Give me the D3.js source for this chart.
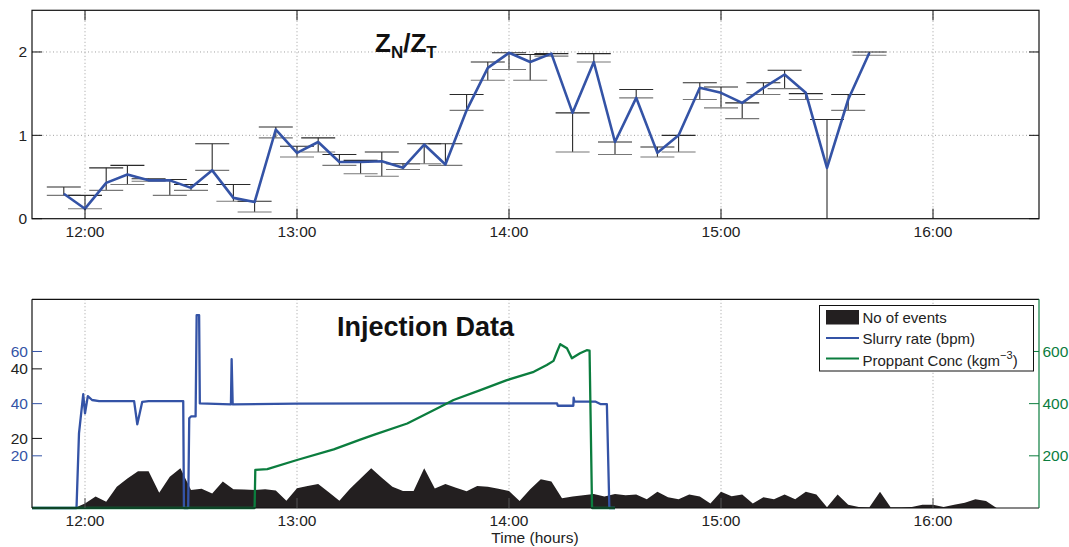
<!DOCTYPE html>
<html>
<head>
<meta charset="utf-8">
<script src="https://cdn.jsdelivr.net/npm/d3@7"></script>
<style>
  body { margin: 0; background: #fff; }
  svg { font-family: "Liberation Sans", Arial, Helvetica, sans-serif; }
</style>
</head>
<body>
<div id="chart"></div>
<script>
// minutes relative to 12:00
const tickMinutes = [0, 60, 120, 180, 240]
const tickLabels = ['12:00', '13:00', '14:00', '15:00', '16:00']

// top panel: ZN/ZT ratio with error bars
const zTime = [-6, 0, 6, 12, 18, 24, 30, 36, 42, 48, 54, 60, 66, 72, 78, 84, 90, 96, 102, 108,
  114, 120, 126, 132, 138, 144, 150, 156, 162, 168, 174, 180, 186, 192, 198, 204, 210, 216, 222]
const zRatio = [0.30, 0.12, 0.43, 0.53, 0.46, 0.46, 0.37, 0.58, 0.25, 0.20, 1.07, 0.79, 0.92, 0.68, 0.68, 0.69, 0.61, 0.89, 0.65, 1.30,
  1.81, 1.99, 1.88, 1.98, 1.27, 1.88, 0.92, 1.45, 0.79, 1.00, 1.57, 1.51, 1.39, 1.57, 1.73, 1.51, 0.61, 1.43, 1.99]
const zLow = [0.28, 0.12, 0.34, 0.41, 0.45, 0.28, 0.34, 0.58, 0.21, 0.08, 0.97, 0.74, 0.80, 0.64, 0.54, 0.51, 0.59, 0.66, 0.64, 1.30,
  1.66, 1.79, 1.66, 1.95, 0.80, 1.88, 0.77, 1.45, 0.74, 0.80, 1.43, 1.33, 1.20, 1.49, 1.56, 1.43, -0.3, 1.30, 1.96]
const zHigh = [0.38, 0.28, 0.61, 0.64, 0.48, 0.47, 0.41, 0.90, 0.41, 0.21, 1.10, 0.87, 0.97, 0.77, 0.70, 0.80, 0.66, 0.90, 0.90, 1.49,
  1.88, 1.99, 1.97, 1.98, 1.27, 1.98, 0.92, 1.55, 0.86, 1.00, 1.63, 1.58, 1.39, 1.63, 1.78, 1.50, 1.19, 1.49, 2.00]
const zTicks = [0, 1, 2]

// bottom panel: injection data
const eventTime = [-6, -3, 0, 3, 6, 9, 12, 15, 18, 21, 24, 27, 30, 33, 36, 39, 42, 45, 48, 51, 54, 57, 60, 63, 66, 69, 72, 75, 78, 81,
  84, 87, 90, 93, 96, 99, 102, 105, 108, 111, 114, 117, 120, 123, 126, 129, 132, 135, 138, 141, 144, 147, 150, 153, 156, 159, 162, 165,
  168, 171, 174, 177, 180, 183, 186, 189, 192, 195, 198, 201, 204, 207, 210, 213, 216, 219, 222, 225, 228, 231, 234, 237, 240, 243, 246,
  249, 252, 255, 258, 261, 264, 267, 270]
const eventCount = [0, 0, 1.3, 3.3, 1.8, 6.1, 8.5, 10.6, 10.6, 4.4, 9.0, 11.4, 5.2, 5.5, 4.2, 7.6, 5.4, 5.3, 5.2, 5.4, 5.0, 2.1, 5.7, 6.3, 6.9, 4.5, 2.1, 5.5, 8.5, 11.4,
  8.7, 6.1, 4.9, 4.9, 11.4, 5.6, 6.9, 5.8, 4.8, 6.3, 6.1, 5.5, 4.9, 2.0, 5.4, 8.3, 7.6, 2.8, 3.3, 3.7, 4.0, 3.3, 4.0, 3.7, 3.9, 2.5, 4.7, 3.1,
  2.5, 3.9, 3.3, 1.3, 4.7, 3.4, 3.9, 1.3, 3.1, 2.5, 3.9, 2.5, 4.7, 3.9, 0.2, 3.9, 0.9, 0.3, 0.2, 4.7, 0.2, 0.2, 0.3, 0.9, 0.9, 0.3, 0.9,
  1.5, 2.5, 2.0, 0, 0, 0, 0, 0]

const slurryTime = [-15, -2.4, -1.7, -0.5, 0, 0.8, 2, 4, 13.9, 14.8, 16.2, 18, 27.8, 28.0, 29.2, 29.5, 30, 31.3, 31.6, 32.3, 32.5,
  41.3, 41.5, 41.8, 60, 90, 120, 133.6, 133.8, 138.2, 138.3, 138.5, 144.4, 146, 147.7, 148.4, 150]
const slurryRate = [0, 0, 28.6, 43.6, 36.3, 42.9, 41.4, 41.0, 41.0, 32.1, 40.7, 41.0, 41.0, 0, 0, 34.4, 35.1, 35.1, 73.9, 73.9, 40.1,
  39.7, 57.1, 39.7, 40.0, 40.1, 40.1, 40.1, 39.2, 39.2, 42.3, 40.8, 40.8, 39.8, 39.8, 0, 0]

const proppantTime = [-15, 48.0, 48.2, 51.6, 60, 70.4, 77.9, 81.7, 91.2, 100.6, 104.3, 111.9, 119.4, 127, 130.7, 132.6, 133.6, 134.5,
  136.4, 137.8, 140.1, 142, 142.8, 143.5, 150]
const proppantConc = [0, 0, 146, 149, 184, 225, 262, 280, 324, 388, 414, 452, 490, 522, 548, 564, 599, 628,
  612, 574, 593, 605, 603, 0, 0]

const slurryTicks = [20, 40, 60]
const eventTicks = [20, 40]
const proppantTicks = [200, 400, 600]

const legendLabels = ['No of events', 'Slurry rate (bpm)', 'Proppant Conc (kgm']

const blue = '#3453a6'
const green = '#0b7d3e'
const dark = '#231f20'

const width = 1069
const height = 547
const left = 32
const right = 1039

const svg = d3.select('#chart').append('svg')
  .attr('width', width)
  .attr('height', height)

const x = d3.scaleLinear().domain([-15, 270]).range([left, right])

// ---------- top panel ----------
const topY = d3.scaleLinear().domain([0, 2.5]).range([218.7, 10.3])
const topG = svg.append('g')

// grid
topG.selectAll('.vgrid').data(tickMinutes).enter().append('line')
  .attr('x1', d => x(d)).attr('x2', d => x(d))
  .attr('y1', topY(2.5)).attr('y2', topY(0))
  .attr('stroke', '#888').attr('stroke-width', 0.8).attr('stroke-dasharray', '1,2.5')
topG.selectAll('.hgrid').data(zTicks.slice(1)).enter().append('line')
  .attr('x1', left).attr('x2', right)
  .attr('y1', d => topY(d)).attr('y2', d => topY(d))
  .attr('stroke', '#888').attr('stroke-width', 0.8).attr('stroke-dasharray', '1,2.5')

// error bars
const capW = 17
const eb = topG.append('g').attr('stroke', '#2a2a2a').attr('stroke-width', 1.1)
zTime.forEach((t, i) => {
  const lo = Math.max(zLow[i], 0)
  eb.append('line').attr('x1', x(t)).attr('x2', x(t)).attr('y1', topY(lo)).attr('y2', topY(zHigh[i]))
  eb.append('line').attr('x1', x(t) - capW).attr('x2', x(t) + capW).attr('y1', topY(zHigh[i])).attr('y2', topY(zHigh[i]))
  if (zLow[i] >= 0) {
    eb.append('line').attr('x1', x(t) - capW).attr('x2', x(t) + capW).attr('y1', topY(zLow[i])).attr('y2', topY(zLow[i]))
      .attr('stroke', '#777')
  }
})

topG.append('path')
  .datum(zTime.map((t, i) => [t, zRatio[i]]))
  .attr('fill', 'none').attr('stroke', blue).attr('stroke-width', 2.6).attr('stroke-linejoin', 'round')
  .attr('d', d3.line().x(d => x(d[0])).y(d => topY(d[1])))

// frame + ticks
topG.append('rect').attr('x', left).attr('y', topY(2.5)).attr('width', right - left).attr('height', topY(0) - topY(2.5))
  .attr('fill', 'none').attr('stroke', '#111').attr('stroke-width', 1.2)
tickMinutes.forEach(m => {
  topG.append('line').attr('x1', x(m)).attr('x2', x(m)).attr('y1', topY(0)).attr('y2', topY(0) - 10).attr('stroke', '#111')
  topG.append('line').attr('x1', x(m)).attr('x2', x(m)).attr('y1', topY(2.5)).attr('y2', topY(2.5) + 10).attr('stroke', '#111')
})
zTicks.forEach(v => {
  topG.append('line').attr('x1', left).attr('x2', left + 10).attr('y1', topY(v)).attr('y2', topY(v)).attr('stroke', '#111')
  topG.append('line').attr('x1', right).attr('x2', right - 10).attr('y1', topY(v)).attr('y2', topY(v)).attr('stroke', '#111')
  topG.append('text').attr('x', 27).attr('y', topY(v) + 5.5).attr('text-anchor', 'end')
    .attr('font-size', 15.5).attr('fill', '#222').text(v)
})
topG.selectAll('.xl').data(tickMinutes).enter().append('text')
  .attr('x', d => x(d)).attr('y', 236.5).attr('text-anchor', 'middle')
  .attr('font-size', 15.5).attr('fill', '#222').text((d, i) => tickLabels[i])

const zt = topG.append('text').attr('x', 375).attr('y', 52).attr('font-size', 26).attr('font-weight', 'bold').attr('fill', '#111')
zt.append('tspan').text('Z')
zt.append('tspan').attr('font-size', 17).attr('dy', 6).text('N')
zt.append('tspan').attr('dy', -6).text('/Z')
zt.append('tspan').attr('font-size', 17).attr('dy', 6).text('T')

// ---------- bottom panel ----------
const bTop = 299.3
const bBot = 508
const slurryY = d3.scaleLinear().domain([0, 80]).range([bBot, bTop])
const eventY = d3.scaleLinear().domain([0, 60]).range([bBot, bTop])
const propY = d3.scaleLinear().domain([0, 800]).range([bBot, bTop])
const botG = svg.append('g')

botG.selectAll('.vgrid').data(tickMinutes).enter().append('line')
  .attr('x1', d => x(d)).attr('x2', d => x(d))
  .attr('y1', bTop).attr('y2', bBot)
  .attr('stroke', '#888').attr('stroke-width', 0.8).attr('stroke-dasharray', '1,2.5')

botG.append('path')
  .datum(eventTime.map((t, i) => [t, eventCount[i]]))
  .attr('fill', dark).attr('stroke', 'none')
  .attr('d', d3.area().x(d => x(d[0])).y0(eventY(0)).y1(d => eventY(d[1])))

botG.append('path')
  .datum(slurryTime.map((t, i) => [t, slurryRate[i]]))
  .attr('fill', 'none').attr('stroke', blue).attr('stroke-width', 2.3).attr('stroke-linejoin', 'round')
  .attr('d', d3.line().x(d => x(d[0])).y(d => slurryY(d[1])))

botG.append('path')
  .datum(proppantTime.map((t, i) => [t, proppantConc[i]]))
  .attr('fill', 'none').attr('stroke', green).attr('stroke-width', 2.3).attr('stroke-linejoin', 'round')
  .attr('d', d3.line().x(d => x(d[0])).y(d => propY(d[1])))

// frame
botG.append('line').attr('x1', left).attr('x2', right).attr('y1', bTop).attr('y2', bTop).attr('stroke', '#111').attr('stroke-width', 1.2)
botG.append('line').attr('x1', left).attr('x2', right).attr('y1', bBot).attr('y2', bBot).attr('stroke', '#111').attr('stroke-width', 1.2)
botG.append('line').attr('x1', left).attr('x2', left).attr('y1', bTop).attr('y2', bBot).attr('stroke', '#111').attr('stroke-width', 1.2)
botG.append('line').attr('x1', right).attr('x2', right).attr('y1', bTop).attr('y2', bBot).attr('stroke', green).attr('stroke-width', 1.2)

tickMinutes.forEach(m => {
  botG.append('line').attr('x1', x(m)).attr('x2', x(m)).attr('y1', bBot).attr('y2', bBot - 10).attr('stroke', '#555')
})
botG.selectAll('.xl').data(tickMinutes).enter().append('text')
  .attr('x', d => x(d)).attr('y', 525.5).attr('text-anchor', 'middle')
  .attr('font-size', 15.5).attr('fill', '#222').text((d, i) => tickLabels[i])
botG.append('text').attr('x', 535).attr('y', 542.5).attr('text-anchor', 'middle')
  .attr('font-size', 15.5).attr('fill', '#222').text('Time (hours)')

slurryTicks.forEach(v => {
  botG.append('line').attr('x1', left).attr('x2', left + 10).attr('y1', slurryY(v)).attr('y2', slurryY(v)).attr('stroke', blue)
  botG.append('text').attr('x', 28).attr('y', slurryY(v) + 5.5).attr('text-anchor', 'end')
    .attr('font-size', 15.5).attr('fill', blue).text(v)
})
eventTicks.forEach(v => {
  botG.append('line').attr('x1', left).attr('x2', left + 10).attr('y1', eventY(v)).attr('y2', eventY(v)).attr('stroke', '#111')
  botG.append('text').attr('x', 28).attr('y', eventY(v) + 5.5).attr('text-anchor', 'end')
    .attr('font-size', 15.5).attr('fill', '#222').text(v)
})
proppantTicks.forEach(v => {
  botG.append('line').attr('x1', right).attr('x2', right - 10).attr('y1', propY(v)).attr('y2', propY(v)).attr('stroke', green)
  botG.append('text').attr('x', 1042.5).attr('y', propY(v) + 5.5).attr('text-anchor', 'start')
    .attr('font-size', 15.5).attr('fill', green).text(v)
})

botG.append('text').attr('x', 337).attr('y', 335.5).attr('font-size', 27).attr('font-weight', 'bold')
  .attr('fill', '#111').text('Injection Data')

// legend
const lg = botG.append('g')
lg.append('rect').attr('x', 819.5).attr('y', 305.5).attr('width', 214).attr('height', 65.5)
  .attr('fill', '#fff').attr('stroke', '#111').attr('stroke-width', 1)
lg.append('rect').attr('x', 826).attr('y', 310).attr('width', 33).attr('height', 14.5).attr('fill', dark)
lg.append('line').attr('x1', 826).attr('x2', 859).attr('y1', 338).attr('y2', 338).attr('stroke', blue).attr('stroke-width', 2)
lg.append('line').attr('x1', 826).attr('x2', 859).attr('y1', 358.5).attr('y2', 358.5).attr('stroke', green).attr('stroke-width', 2)
const legY = [323, 343.5, 366]
legendLabels.forEach((t, i) => {
  const tx = lg.append('text').attr('x', 862.5).attr('y', legY[i]).attr('font-size', 15).attr('fill', '#222').text(t)
  if (i === 2) {
    tx.append('tspan').attr('font-size', 11).attr('dy', -7).text('\u22123')
    tx.append('tspan').attr('dy', 7).text(')')
  }
})
</script>
</body>
</html>
